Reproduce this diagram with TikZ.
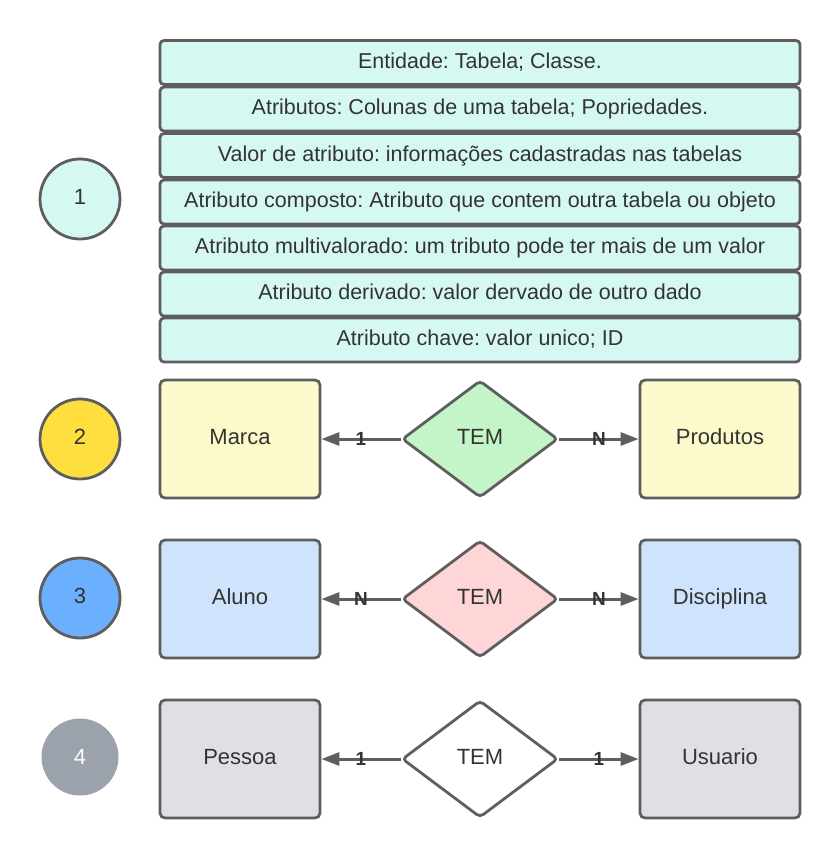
\documentclass[tikz,border=0pt]{standalone}
\usepackage{fontspec}
\setmainfont{Liberation Sans}
\usepackage{tikz}
\usetikzlibrary{shapes.geometric, arrows.meta}
\frenchspacing

\definecolor{edge}{HTML}{5E5E5E}
\definecolor{ink}{HTML}{333333}
\definecolor{mint}{HTML}{D6F8F2}
\definecolor{cream}{HTML}{FCFACA}
\definecolor{sky}{HTML}{D0E3FD}
\definecolor{fog}{HTML}{DEE0E4}
\definecolor{leaf}{HTML}{C3F5C8}
\definecolor{blush}{HTML}{FFD6D8}
\definecolor{sun}{HTML}{FFDF3F}
\definecolor{ocean}{HTML}{6AB0FF}
\definecolor{slate}{HTML}{9CA2AB}

\begin{document}
\begin{tikzpicture}[
    x = 1pt, y = -1pt,
    line width = 2.8pt,
    outlined/.style = {draw = edge, text = ink,
      text height = 15pt, text depth = 4pt,
      font = \fontsize{22}{26}\selectfont},
    rowbox/.style = {rectangle, rounded corners = 4pt,
      minimum width = {640pt}, minimum height = {44pt},
      fill = mint, font = \fontsize{21.5}{26}\selectfont},
    entity/.style = {rectangle, rounded corners = 5pt,
      minimum width = {160pt}, minimum height = {118pt}},
    relation/.style = {diamond, rounded corners = 4pt, inner sep = 0pt,
      minimum width = {156pt}, minimum height = {117pt}},
    marker/.style = {circle, minimum size = {80pt}, inner sep = 0pt},
    link/.style = {draw = edge, line width = 3pt,
      -{Triangle[length = 18pt, width = 13pt]}},
    card/.style = {text = ink, inner sep = 0pt,
      font = \fontsize{19}{22}\selectfont\bfseries},
    ]

    \useasboundingbox (0, 0) rectangle (840, 860);

    % legenda
    \node at (80, 199)
    [outlined, marker, fill = mint, name = n1] {1};

    \node at (480, 62.5)
    [outlined, rowbox, name = entidade] {Entidade: Tabela; Classe.};
    \node at (480, 109)
    [outlined, rowbox, name = atributos] {Atributos: Colunas de uma tabela; Popriedades.};
    \node at (480, 155.5)
    [outlined, rowbox, name = valor] {Valor de atributo: informações cadastradas nas tabelas};
    \node at (480, 202)
    [outlined, rowbox, name = composto] {Atributo composto: Atributo que contem outra tabela ou objeto};
    \node at (480, 248)
    [outlined, rowbox, name = multivalorado] {Atributo multivalorado: um tributo pode ter mais de um valor};
    \node at (480, 294)
    [outlined, rowbox, name = derivado] {Atributo derivado: valor dervado de outro dado};
    \node at (480, 340)
    [outlined, rowbox, name = chave] {Atributo chave: valor unico; ID};

    % 1 para N
    \node at (80, 439)
    [outlined, marker, fill = sun, name = n2] {2};
    \node at (240, 439)
    [outlined, entity, fill = cream, name = marca] {Marca};
    \node at (480, 439)
    [outlined, relation, fill = leaf, name = tem2] {TEM};
    \node at (720, 439)
    [outlined, entity, fill = cream, name = produtos] {Produtos};

    \draw [link] (tem2.west) to node [card] {1} (marca.east);
    \draw [link] (tem2.east) to node [card] {N} (produtos.west);

    % N para N
    \node at (80, 598)
    [outlined, marker, fill = ocean, name = n3] {3};
    \node at (240, 599)
    [outlined, entity, fill = sky, name = aluno] {Aluno};
    \node at (480, 599)
    [outlined, relation, fill = blush, name = tem3] {TEM};
    \node at (720, 599)
    [outlined, entity, fill = sky, name = disciplina] {Disciplina};

    \draw [link] (tem3.west) to node [card] {N} (aluno.east);
    \draw [link] (tem3.east) to node [card] {N} (disciplina.west);

    % 1 para 1
    \node at (80, 757)
    [marker, fill = slate, text = white, minimum size = {77pt},
      font = \fontsize{22}{26}\selectfont, name = n4] {4};
    \node at (240, 759)
    [outlined, entity, fill = fog, name = pessoa] {Pessoa};
    \node at (480, 759)
    [outlined, relation, fill = white, name = tem4] {TEM};
    \node at (720, 759)
    [outlined, entity, fill = fog, name = usuario] {Usuario};

    \draw [link] (tem4.west) to node [card] {1} (pessoa.east);
    \draw [link] (tem4.east) to node [card] {1} (usuario.west);
  \end{tikzpicture}
\end{document}
